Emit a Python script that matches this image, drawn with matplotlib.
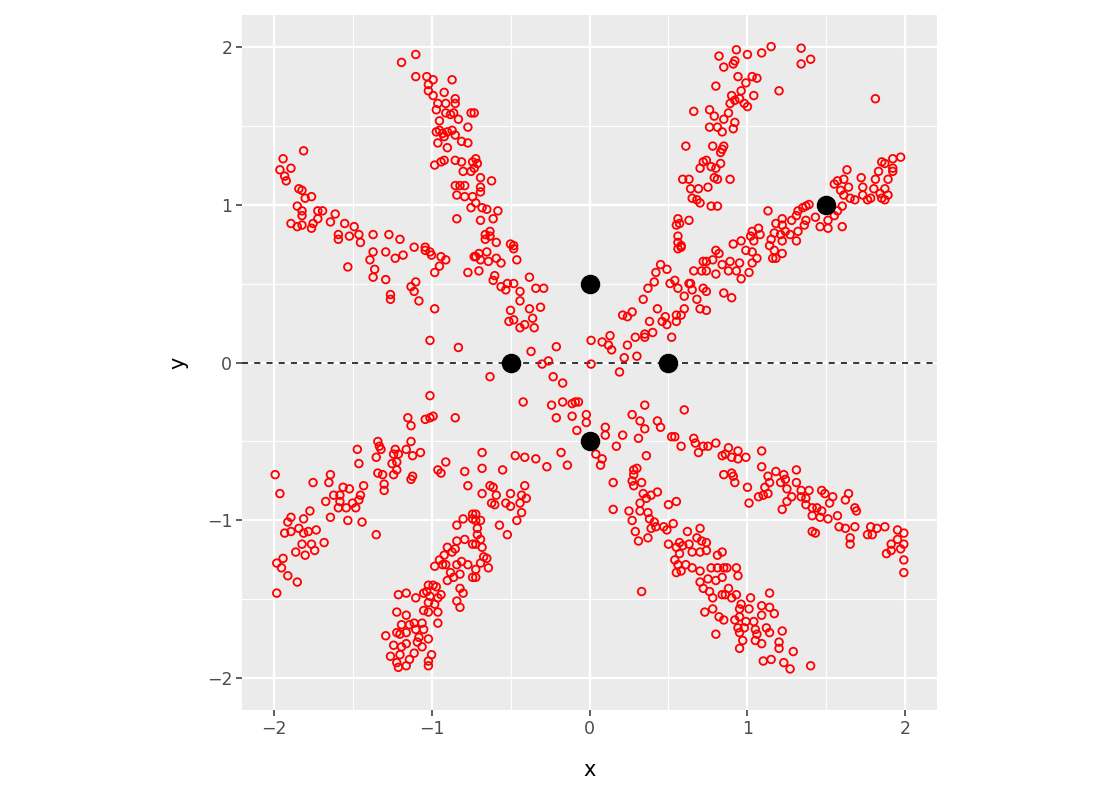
import numpy as np
import matplotlib.pyplot as plt

# red points
nw_steep = [
    (-1.10, 1.95), (-1.19, 1.90), (-1.10, 1.81), (-1.03, 1.81), (-0.99, 1.79), (-0.87, 1.79),
    (-1.02, 1.76), (-1.02, 1.72), (-0.99, 1.69), (-0.92, 1.71), (-0.85, 1.67), (-0.96, 1.64),
    (-0.91, 1.64), (-0.85, 1.64), (-0.97, 1.60), (-0.91, 1.58), (-0.88, 1.57), (-0.86, 1.58),
    (-0.75, 1.58), (-0.83, 1.54), (-0.95, 1.53), (-0.77, 1.49), (-0.95, 1.47), (-0.97, 1.46),
    (-0.93, 1.45), (-0.90, 1.46), (-0.87, 1.47), (-0.85, 1.44), (-0.92, 1.43), (-0.81, 1.40),
    (-0.96, 1.39), (-0.90, 1.36), (-0.77, 1.39), (-0.98, 1.25), (-0.94, 1.27), (-0.92, 1.28),
    (-0.85, 1.28), (-0.81, 1.27), (-0.74, 1.27), (-0.80, 1.21), (-0.75, 1.21), (-0.85, 1.12),
    (-0.82, 1.12), (-0.79, 1.12), (-0.84, 1.06), (-0.79, 1.05), (-0.74, 1.05), (-0.75, 0.98),
    (-0.84, 0.91), (-0.73, 1.58), (-0.72, 1.29), (-0.71, 1.26), (-0.73, 1.23), (-0.69, 1.17),
    (-0.62, 1.15), (-0.69, 1.11), (-0.69, 1.08), (-0.72, 1.01), (-0.68, 0.98), (-0.65, 0.97),
    (-0.58, 0.96), (-0.61, 0.91), (-0.69, 0.90), (-0.63, 0.83), (-0.66, 0.81), (-0.63, 0.80),
    (-0.66, 0.78), (-0.59, 0.76), (-0.50, 0.75), (-0.48, 0.74), (-0.72, 0.67), (-0.70, 0.69),
    (-0.65, 0.70), (-0.69, 0.65), (-0.64, 0.64), (-0.59, 0.66), (-0.56, 0.63), (-0.70, 0.58),
    (-0.60, 0.55), (-0.61, 0.52), (-0.56, 0.48), (-0.53, 0.46), (-0.52, 0.50), (-0.48, 0.50),
    (-0.46, 0.65), (-0.48, 0.72), (-0.38, 0.54), (-0.44, 0.45), (-0.44, 0.39), (-0.34, 0.47),
    (-0.29, 0.47), (-0.50, 0.33), (-0.51, 0.26), (-0.48, 0.27), (-0.38, 0.34), (-0.36, 0.28),
    (-0.41, 0.24), (-0.44, 0.22), (-0.35, 0.22), (-0.31, 0.35), (-0.21, 0.10), (-0.37, 0.07),
]
nw_flat = [
    (-1.81, 1.34), (-1.94, 1.29), (-1.96, 1.22), (-1.89, 1.23), (-1.93, 1.18), (-1.92, 1.15),
    (-1.84, 1.10), (-1.82, 1.09), (-1.80, 1.04), (-1.76, 1.05), (-1.85, 0.99), (-1.82, 0.96),
    (-1.82, 0.93), (-1.89, 0.88), (-1.85, 0.86), (-1.82, 0.87), (-1.76, 0.85), (-1.75, 0.88),
    (-1.72, 0.91), (-1.72, 0.96), (-1.69, 0.96), (-1.61, 0.94), (-1.64, 0.89), (-1.55, 0.88),
    (-1.49, 0.86), (-1.59, 0.81), (-1.52, 0.80), (-1.59, 0.78), (-1.46, 0.81), (-1.45, 0.76),
    (-1.37, 0.81), (-1.27, 0.81), (-1.20, 0.78), (-1.11, 0.73), (-1.04, 0.73), (-1.53, 0.605),
    (-1.39, 0.65), (-1.37, 0.70), (-1.36, 0.59), (-1.37, 0.54), (-1.29, 0.70), (-1.29, 0.525),
    (-1.23, 0.66), (-1.18, 0.68), (-1.04, 0.71), (-1.01, 0.70), (-1.00, 0.68), (-0.94, 0.67),
    (-0.91, 0.65), (-0.95, 0.61), (-0.98, 0.57), (-0.77, 0.57), (-0.73, 0.67), (-1.13, 0.48),
    (-1.10, 0.51), (-1.11, 0.45), (-1.08, 0.39), (-1.26, 0.43), (-1.26, 0.40), (-0.98, 0.34),
    (-1.01, 0.14), (-0.83, 0.095),
]
sw_flat = [
    (-1.01, -0.21), (-1.15, -0.35), (-1.13, -0.40), (-1.04, -0.36), (-1.01, -0.35), (-0.99, -0.34),
    (-0.85, -0.35), (-1.34, -0.50), (-1.33, -0.53), (-1.32, -0.55), (-1.47, -0.55), (-1.46, -0.64),
    (-1.35, -0.60), (-1.23, -0.55), (-1.24, -0.58), (-1.21, -0.58), (-1.16, -0.55), (-1.13, -0.50),
    (-1.12, -0.59), (-1.07, -0.57), (-1.25, -0.64), (-1.22, -0.63), (-1.22, -0.68), (-1.24, -0.71),
    (-1.34, -0.70), (-1.31, -0.71), (-1.12, -0.72), (-0.96, -0.68), (-0.94, -0.70), (-0.91, -0.63),
    (-0.79, -0.69), (-1.99, -0.71), (-1.64, -0.71), (-1.96, -0.83), (-1.75, -0.76), (-1.65, -0.76),
    (-1.56, -0.79), (-1.52, -0.80), (-1.43, -0.78), (-1.45, -0.84), (-1.46, -0.87), (-1.62, -0.84),
    (-1.58, -0.84), (-1.67, -0.88), (-1.58, -0.88), (-1.59, -0.92), (-1.54, -0.92), (-1.50, -0.89),
    (-1.48, -0.92), (-1.30, -0.77), (-1.30, -0.81), (-1.13, -0.74), (-0.77, -0.78), (-1.64, -0.98),
    (-1.53, -1.00), (-1.44, -1.01), (-1.35, -1.09), (-1.77, -0.94), (-1.81, -0.99), (-1.89, -0.98),
    (-1.91, -1.01), (-1.93, -1.08), (-1.89, -1.07), (-1.84, -1.05), (-1.81, -1.08), (-1.78, -1.07),
    (-1.73, -1.06), (-1.68, -1.14), (-1.76, -1.15), (-1.82, -1.15), (-1.86, -1.20), (-1.80, -1.22),
    (-1.74, -1.19), (-1.94, -1.24), (-1.98, -1.27), (-1.95, -1.30), (-1.91, -1.35), (-1.85, -1.39),
    (-1.98, -1.46), (-0.63, -0.09),
]
sw_steep = [
    (-0.80, -0.99), (-0.84, -1.03), (-0.74, -0.96), (-0.74, -0.99), (-0.84, -1.13), (-0.79, -1.12),
    (-0.90, -1.17), (-0.87, -1.20), (-0.85, -1.18), (-0.74, -1.15), (-0.92, -1.22), (-0.95, -1.25),
    (-0.93, -1.28), (-0.98, -1.29), (-0.91, -1.28), (-0.84, -1.28), (-0.81, -1.26), (-0.77, -1.28),
    (-0.82, -1.34), (-0.74, -1.36), (-0.88, -1.33), (-0.90, -1.38), (-0.86, -1.36), (-0.82, -1.43),
    (-0.80, -1.46), (-0.84, -1.51), (-0.82, -1.55), (-1.02, -1.41), (-0.99, -1.41), (-0.97, -1.42),
    (-1.03, -1.45), (-1.05, -1.46), (-1.10, -1.49), (-1.01, -1.48), (-0.96, -1.49), (-0.94, -1.47),
    (-1.02, -1.52), (-0.98, -1.53), (-1.05, -1.57), (-1.02, -1.58), (-0.96, -1.58), (-0.96, -1.65),
    (-1.21, -1.47), (-1.16, -1.46), (-1.22, -1.58), (-1.16, -1.60), (-1.19, -1.66), (-1.14, -1.66),
    (-1.11, -1.65), (-1.06, -1.65), (-1.05, -1.69), (-1.10, -1.69), (-1.16, -1.71), (-1.22, -1.71),
    (-1.29, -1.73), (-1.20, -1.72), (-1.08, -1.74), (-1.09, -1.77), (-1.06, -1.80), (-1.02, -1.75),
    (-1.24, -1.79), (-1.19, -1.80), (-1.16, -1.78), (-1.11, -1.84), (-1.14, -1.88), (-1.20, -1.85),
    (-1.26, -1.86), (-1.22, -1.90), (-1.21, -1.93), (-1.16, -1.92), (-1.02, -1.89), (-1.02, -1.92),
    (-1.00, -1.85), (-0.63, -0.78), (-0.61, -0.79), (-0.68, -0.83), (-0.59, -0.84), (-0.50, -0.83),
    (-0.41, -0.78), (-0.43, -0.84), (-0.40, -0.86), (-0.62, -0.89), (-0.60, -0.90), (-0.53, -0.89),
    (-0.50, -0.91), (-0.44, -0.89), (-0.43, -0.95), (-0.46, -1.00), (-0.57, -1.03), (-0.52, -1.09),
    (-0.72, -0.96), (-0.72, -1.00), (-0.69, -1.00), (-0.71, -1.05), (-0.71, -1.09), (-0.69, -1.12),
    (-0.72, -1.15), (-0.68, -1.17), (-0.67, -1.23), (-0.65, -1.24), (-0.69, -1.27), (-0.64, -1.30),
    (-0.72, -1.31), (-0.72, -1.36), (-0.68, -0.57), (-0.68, -0.67), (-0.55, -0.68), (-0.47, -0.59),
    (-0.41, -0.60), (-0.34, -0.61), (-0.27, -0.66), (-0.18, -0.57), (-0.14, -0.65),
]
centre = [
    (-0.26, 0.01), (-0.30, -0.01), (-0.23, -0.09), (-0.17, -0.13), (-0.42, -0.25), (-0.24, -0.27),
    (-0.21, -0.35), (-0.17, -0.25), (-0.11, -0.26), (-0.09, -0.25), (-0.07, -0.25), (-0.11, -0.34),
    (-0.08, -0.43), (-0.02, -0.33), (-0.02, -0.38), (0.10, -0.41), (0.10, -0.46), (0.01, -0.01),
    (0.01, 0.14), (0.08, 0.13), (0.13, 0.17), (0.12, 0.11), (0.14, 0.08), (0.19, -0.06),
    (0.22, 0.03), (0.24, 0.11), (0.30, 0.04), (0.29, 0.16), (0.35, 0.16), (0.35, 0.18),
    (0.40, 0.19), (0.52, 0.16),
]
ne_flat = [
    (0.21, 0.30), (0.24, 0.29), (0.27, 0.32), (0.38, 0.26), (0.43, 0.34), (0.46, 0.26),
    (0.48, 0.29), (0.49, 0.24), (0.55, 0.30), (0.58, 0.30), (0.60, 0.34), (0.55, 0.26),
    (0.34, 0.40), (0.37, 0.47), (0.41, 0.51), (0.42, 0.57), (0.45, 0.62), (0.49, 0.59),
    (0.51, 0.50), (0.54, 0.52), (0.56, 0.47), (0.60, 0.42), (0.63, 0.50), (0.64, 0.50),
    (0.65, 0.46), (0.68, 0.40), (0.70, 0.34), (0.66, 0.58), (0.71, 0.58), (0.72, 0.64),
    (0.56, 0.72), (0.58, 0.73), (0.72, 0.47), (0.80, 0.71), (0.82, 0.69), (0.74, 0.64),
    (0.78, 0.65), (0.84, 0.62), (0.89, 0.64), (0.88, 0.58), (0.95, 0.63), (0.93, 0.58),
    (0.80, 0.56), (0.74, 0.58), (0.96, 0.53), (1.01, 0.57), (1.03, 0.63), (1.06, 0.66),
    (0.99, 0.71), (1.03, 0.70), (1.16, 0.66), (1.18, 0.66), (1.22, 0.69), (1.17, 0.71),
    (0.74, 0.45), (0.85, 0.44), (0.90, 0.41), (0.74, 0.33), (1.97, 1.30), (1.92, 1.29),
    (1.85, 1.27), (1.87, 1.26), (1.92, 1.23), (1.83, 1.21), (1.92, 1.21), (1.63, 1.22),
    (1.72, 1.17), (1.81, 1.16), (1.89, 1.16), (1.61, 1.16), (1.57, 1.15), (1.55, 1.13),
    (1.64, 1.11), (1.59, 1.09), (1.73, 1.11), (1.80, 1.10), (1.87, 1.10), (1.61, 1.06),
    (1.65, 1.04), (1.68, 1.03), (1.73, 1.06), (1.76, 1.03), (1.78, 1.04), (1.84, 1.07),
    (1.85, 1.04), (1.89, 1.06), (1.87, 1.03), (1.60, 0.99), (1.57, 0.96), (1.55, 0.93),
    (1.51, 0.90), (1.51, 0.85), (1.46, 0.86), (1.60, 0.86), (1.43, 0.92), (1.37, 0.99),
    (1.39, 1.00), (1.35, 0.98), (1.32, 0.96), (1.31, 0.93), (1.28, 0.90), (1.22, 0.91),
    (1.22, 0.87), (1.18, 0.88), (1.13, 0.96), (1.37, 0.90), (1.36, 0.87), (1.32, 0.83),
    (1.27, 0.81), (1.24, 0.83), (1.21, 0.81), (1.17, 0.82), (1.15, 0.78), (1.07, 0.85),
    (1.03, 0.83), (1.02, 0.80), (1.08, 0.81), (1.04, 0.77), (0.96, 0.77), (0.91, 0.75),
    (1.31, 0.77), (1.22, 0.77), (1.14, 0.74),
]
ne_steep = [
    (0.82, 1.94), (0.93, 1.98), (1.00, 1.95), (1.09, 1.96), (1.15, 2.00), (1.34, 1.99),
    (1.40, 1.92), (1.34, 1.89), (0.85, 1.87), (0.91, 1.89), (0.92, 1.91), (0.94, 1.81),
    (1.03, 1.81), (1.06, 1.80), (0.99, 1.77), (1.20, 1.72), (0.80, 1.75), (0.96, 1.72),
    (1.04, 1.69), (0.90, 1.69), (0.92, 1.66), (0.95, 1.67), (0.98, 1.64), (1.00, 1.62),
    (0.89, 1.64), (0.76, 1.60), (0.88, 1.58), (0.79, 1.56), (0.85, 1.54), (0.92, 1.52),
    (0.76, 1.49), (0.81, 1.49), (0.84, 1.46), (0.91, 1.48), (0.78, 1.37), (0.85, 1.37),
    (0.83, 1.33), (0.84, 1.35), (0.74, 1.28), (0.77, 1.24), (0.80, 1.23), (0.83, 1.26),
    (0.79, 1.17), (0.81, 1.16), (0.89, 1.16), (0.75, 1.11), (0.77, 0.99), (0.81, 0.99),
    (1.81, 1.67), (0.66, 1.59), (0.61, 1.37), (0.72, 1.27), (0.70, 1.23), (0.59, 1.16),
    (0.63, 1.16), (0.64, 1.10), (0.69, 1.10), (0.65, 1.04), (0.68, 1.03), (0.70, 1.01),
    (0.56, 0.91), (0.57, 0.88), (0.63, 0.90), (0.55, 0.87), (0.56, 0.80), (0.56, 0.76),
    (0.58, 0.74),
]
se_flat = [
    (0.27, -0.33), (0.32, -0.37), (0.35, -0.27), (0.35, -0.42), (0.31, -0.48), (0.43, -0.37),
    (0.45, -0.41), (0.52, -0.47), (0.54, -0.47), (0.58, -0.53), (0.60, -0.30), (0.66, -0.48),
    (0.67, -0.51), (0.69, -0.57), (0.72, -0.53), (0.75, -0.53), (0.80, -0.51), (0.84, -0.59),
    (0.86, -0.58), (0.88, -0.54), (0.90, -0.60), (0.94, -0.56), (0.94, -0.61), (0.99, -0.60),
    (1.09, -0.56), (1.09, -0.66), (1.13, -0.72), (1.18, -0.69), (1.23, -0.71), (1.31, -0.68),
    (0.85, -0.71), (0.90, -0.70), (0.91, -0.72), (0.92, -0.76), (1.00, -0.79), (1.01, -0.89),
    (1.07, -0.85), (1.10, -0.84), (1.13, -0.83), (1.11, -0.79), (1.14, -0.76), (1.21, -0.76),
    (1.24, -0.74), (1.25, -0.80), (1.22, -0.93), (1.25, -0.88), (1.28, -0.85), (1.31, -0.76),
    (1.34, -0.81), (1.34, -0.85), (1.37, -0.86), (1.39, -0.81), (1.37, -0.90), (1.41, -0.92),
    (1.41, -0.97), (1.44, -0.92), (1.47, -0.81), (1.49, -0.83), (1.54, -0.85), (1.52, -0.89),
    (1.47, -0.94), (1.46, -0.98), (1.51, -0.99), (1.57, -0.97), (1.58, -1.04), (1.64, -0.83),
    (1.62, -0.87), (1.68, -0.92), (1.69, -0.94), (1.68, -1.04), (1.62, -1.05), (1.65, -1.11),
    (1.65, -1.15), (1.41, -1.07), (1.43, -1.08), (1.76, -1.09), (1.79, -1.09), (1.78, -1.04),
    (1.82, -1.05), (1.87, -1.04), (1.95, -1.06), (1.99, -1.08), (1.95, -1.12), (1.91, -1.15),
    (1.99, -1.15), (1.97, -1.18), (1.91, -1.19), (1.88, -1.21), (1.99, -1.25), (1.99, -1.33),
]
se_steep = [
    (0.17, -0.53), (0.21, -0.46), (0.36, -0.59), (0.03, -0.48), (0.04, -0.58), (0.08, -0.61),
    (0.07, -0.65), (0.28, -0.68), (0.30, -0.67), (0.28, -0.71), (0.15, -0.76), (0.27, -0.75),
    (0.28, -0.78), (0.33, -0.76), (0.15, -0.93), (0.34, -0.83), (0.36, -0.86), (0.39, -0.84),
    (0.43, -0.82), (0.32, -0.89), (0.25, -0.94), (0.32, -0.94), (0.37, -0.95), (0.50, -0.90),
    (0.55, -0.88), (0.27, -1.00), (0.38, -0.99), (0.41, -1.01), (0.42, -1.04), (0.39, -1.05),
    (0.29, -1.07), (0.37, -1.11), (0.31, -1.13), (0.47, -1.04), (0.49, -1.06), (0.53, -1.02),
    (0.50, -1.15), (0.62, -1.07), (0.70, -1.05), (0.68, -1.11), (0.57, -1.14), (0.55, -1.17),
    (0.59, -1.16), (0.63, -1.15), (0.65, -1.20), (0.70, -1.20), (0.71, -1.13), (0.57, -1.21),
    (0.54, -1.25), (0.56, -1.28), (0.61, -1.28), (0.65, -1.30), (0.55, -1.33), (0.58, -1.32),
    (0.70, -1.32), (0.70, -1.39), (0.72, -1.43), (0.73, -1.58), (0.33, -1.45), (0.74, -1.14),
    (0.74, -1.19), (0.81, -1.22), (0.84, -1.20), (0.77, -1.30), (0.81, -1.30), (0.85, -1.30),
    (0.87, -1.30), (0.93, -1.30), (0.94, -1.35), (0.75, -1.37), (0.80, -1.38), (0.84, -1.36),
    (0.76, -1.45), (0.78, -1.49), (0.84, -1.47), (0.86, -1.47), (0.88, -1.43), (0.90, -1.49),
    (0.93, -1.47), (1.02, -1.49), (1.14, -1.46), (0.96, -1.53), (1.01, -1.56), (0.95, -1.56),
    (1.09, -1.54), (1.14, -1.55), (1.17, -1.59), (1.09, -1.60), (0.78, -1.56), (0.82, -1.61),
    (0.85, -1.63), (0.92, -1.63), (0.95, -1.61), (0.99, -1.64), (1.04, -1.64), (0.94, -1.68),
    (0.98, -1.68), (0.95, -1.71), (1.05, -1.69), (1.06, -1.72), (1.12, -1.68), (1.14, -1.71),
    (1.22, -1.70), (0.97, -1.76), (1.05, -1.76), (1.09, -1.78), (1.20, -1.77), (1.20, -1.81),
    (0.95, -1.81), (0.80, -1.72), (1.29, -1.83), (1.10, -1.89), (1.15, -1.88), (1.23, -1.90),
    (1.27, -1.94), (1.40, -1.92),
]

# black centres
cx = [0.0, -0.5, 0.5, 0.0, 1.5]
cy = [0.5, 0.0, 0.0, -0.5, 1.0]

red = np.array(nw_steep + nw_flat + sw_flat + sw_steep + centre
               + ne_flat + ne_steep + se_flat + se_steep)

fig = plt.figure(figsize=(11, 8), dpi=100)
ax = fig.add_axes([242 / 1100, 90 / 800, 695 / 1100, 695 / 800])
ax.set_facecolor("#EBEBEB")

ticks = [-2, -1, 0, 1, 2]
minor = [-1.5, -0.5, 0.5, 1.5]
for v in ticks:
    ax.axvline(v, color="white", lw=1.6, zorder=0)
    ax.axhline(v, color="white", lw=1.6, zorder=0)
for v in minor:
    ax.axvline(v, color="white", lw=0.8, zorder=0)
    ax.axhline(v, color="white", lw=0.8, zorder=0)

ax.axhline(0, color="black", lw=1.1, linestyle=(0, (4, 4)), zorder=1)

ax.scatter(red[:, 0], red[:, 1], s=30, facecolors="none", edgecolors="red",
           linewidths=1.3, zorder=2)
ax.scatter(cx, cy, s=170, color="black", zorder=3)

ax.set_xlim(-2.2, 2.2)
ax.set_ylim(-2.2, 2.2)
ax.set_xticks(ticks)
ax.set_yticks(ticks)
labels = [str(t).replace("-", "\u2212") for t in ticks]
ax.set_xticklabels(labels)
ax.set_yticklabels(labels)
ax.tick_params(length=4, width=1.1, color="#333333", labelcolor="#4D4D4D",
               labelsize=12.5, pad=3)
for s in ax.spines.values():
    s.set_visible(False)

ax.set_xlabel("x", fontsize=15, labelpad=16)
ax.set_ylabel("y", fontsize=15, labelpad=13)

plt.savefig("out.png", dpi=100)
